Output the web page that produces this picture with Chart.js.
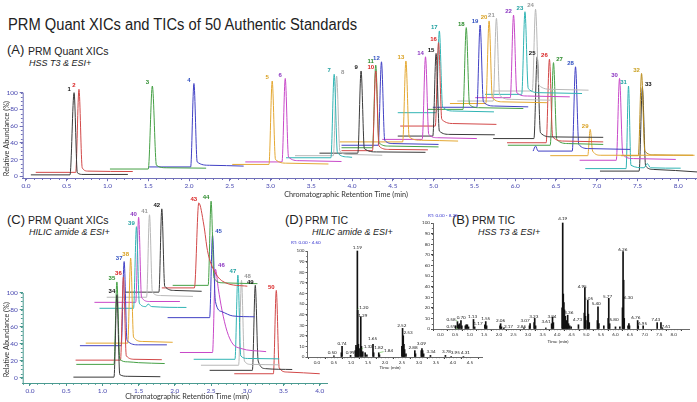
<!DOCTYPE html>
<html><head><meta charset="utf-8">
<script src="https://cdn.jsdelivr.net/npm/chart.js@4.4.0/dist/chart.umd.min.js"></script>
<style>
html,body{margin:0;padding:0;background:#fff;}
#wrap{position:relative;width:697px;height:402px;overflow:hidden;background:#fff;}
canvas{position:absolute;left:0;top:0;}
.t{position:absolute;white-space:nowrap;font-family:"Liberation Sans",Arial,sans-serif;color:#222;line-height:1;}
.i{font-style:italic;}
</style></head><body><div id="wrap">
<div class="t" style="left:8px;top:17px;font-size:16px;transform:scaleX(.92);transform-origin:0 0">PRM Quant XICs and TICs of 50 Authentic Standards</div>
<div class="t" style="left:7px;top:43px;font-size:13px">(A)</div>
<div class="t" style="left:28px;top:45.5px;font-size:10.5px">PRM Quant XICs</div>
<div class="t i" style="left:29px;top:59px;font-size:9px">HSS T3 &amp; ESI+</div>
<div class="t" style="left:7px;top:213px;font-size:13px">(C)</div>
<div class="t" style="left:28px;top:215px;font-size:10.5px">PRM Quant XICs</div>
<div class="t i" style="left:29px;top:228px;font-size:9px">HILIC amide &amp; ESI+</div>
<div class="t" style="left:285px;top:213px;font-size:13px">(D)</div>
<div class="t" style="left:305px;top:215px;font-size:10.5px">PRM TIC</div>
<div class="t i" style="left:312px;top:228px;font-size:9px">HILIC amide &amp; ESI+</div>
<div class="t" style="left:452px;top:213px;font-size:13px">(B)</div>
<div class="t" style="left:472px;top:215px;font-size:10.5px">PRM TIC</div>
<div class="t i" style="left:478px;top:228px;font-size:9px">HSS T3 &amp; ESI+</div>
<canvas id="cA" width="697" height="402"></canvas>
<canvas id="cC" width="697" height="402"></canvas>
<canvas id="cD" width="697" height="402"></canvas>
<canvas id="cB" width="697" height="402"></canvas>
</div>
<script>
// ===== Panel A: PRM quant XICs, HSS T3 & ESI+  ([retention time min, relative abundance %]) =====
const xic01 = [[0.06,1.5],[0.54,1.5],[0.59,100],[0.63,4],[0.70,2],[1.25,2]];
const xic02 = [[0.12,4.5],[0.61,4.5],[0.65,104],[0.69,10],[0.76,6],[1.31,5.5]];
const xic03 = [[1.03,8.5],[1.50,8.5],[1.55,108],[1.60,13],[1.72,10],[2.21,9.5]];
const xic04 = [[1.51,11],[2.02,11],[2.06,111],[2.10,17],[2.25,13],[2.67,12]];
const xic05 = [[2.53,14],[2.98,14],[3.02,114],[3.06,20],[3.20,15.5],[3.71,14.5]];
const xic06 = [[2.69,17],[3.14,17],[3.18,117],[3.22,23],[3.35,18.5],[3.87,17.5]];
const xic07 = [[3.19,22],[3.74,22],[3.78,122],[3.82,28],[3.95,23],[4.00,22.5]];
const xic08 = [[3.30,24.5],[3.77,24.5],[3.81,120],[3.85,30],[3.95,26],[4.37,25]];
const xic09 = [[3.60,27.5],[4.07,27.5],[4.11,126],[4.15,33],[4.30,29],[4.90,28.5]];
const xic10 = [[3.87,30.5],[4.25,30.5],[4.29,126],[4.33,36],[4.45,32],[4.93,31.5]];
const xic11 = [[3.87,34],[4.25,34],[4.29,133],[4.33,40],[4.45,36],[5.06,35]];
const xic12 = [[3.87,37],[4.32,37],[4.36,137],[4.40,43],[4.50,39],[5.06,38]];
const xic13 = [[3.85,41],[4.62,41],[4.66,138],[4.70,47],[4.85,43],[5.30,42]];
const xic14 = [[4.37,44],[4.86,44],[4.90,143],[4.94,50],[5.05,46],[5.53,45]];
const xic15 = [[4.56,48],[4.99,48],[5.03,147],[5.07,54],[5.20,50],[5.75,49.5]];
const xic16 = [[4.59,60],[5.02,60],[5.06,160],[5.10,68],[5.25,63],[5.77,62]];
const xic17 = [[4.56,76],[5.03,76],[5.07,174],[5.11,83],[5.25,78],[5.74,77]];
const xic18 = [[4.92,80],[5.36,80],[5.40,178],[5.44,86],[5.55,82],[6.10,81]];
const xic19 = [[4.99,82.5],[5.53,82.5],[5.57,181],[5.61,89],[5.75,84],[6.16,83]];
const xic20 = [[5.20,87],[5.64,87],[5.68,186],[5.72,94],[5.85,89],[6.39,88]];
const xic21 = [[5.29,90],[5.73,90],[5.77,189],[5.81,97],[5.95,92],[6.43,91]];
const xic22 = [[5.51,94],[5.94,94],[5.98,193],[6.02,100],[6.15,96],[6.67,95]];
const xic23 = [[5.63,98],[6.08,98],[6.12,197],[6.16,105],[6.30,100],[6.82,99]];
const xic24 = [[5.73,102],[6.21,102],[6.25,200],[6.29,109],[6.45,104],[6.90,103]];
const xic25 = [[5.73,45],[6.23,45],[6.27,143],[6.31,52],[6.45,47],[7.08,46.5]];
const xic26 = [[5.90,40],[6.38,40],[6.42,140],[6.46,47],[6.60,42],[7.08,41]];
const xic27 = [[5.91,37],[6.43,37],[6.47,136],[6.51,44],[6.65,39],[7.08,38]];
const xic28 = [[6.22,30],[6.25,36],[6.28,30],[6.70,30],[6.74,131],[6.78,38],[6.90,33],[7.41,32]];
const xic29 = [[6.43,24.5],[6.89,24.5],[6.92,56],[6.95,30],[7.05,25],[8.20,25]];
const xic30 = [[6.79,19],[7.24,19],[7.28,117],[7.32,26],[7.45,21],[7.97,20]];
const xic31 = [[6.86,9],[7.36,9],[7.39,108],[7.42,13],[7.58,10],[7.62,15],[7.66,10],[8.03,9.5]];
const xic32 = [[7.30,24.5],[7.51,24.5],[7.55,123],[7.59,30],[7.70,25.5],[8.18,25]];
const xic33 = [[7.04,6],[7.52,6],[7.56,106],[7.60,12],[7.70,8],[8.23,5]];
const idsA = ['1','2','3','4','5','6','7','8','9','10','11','12','13','14','15','16','17','18','19','20','21','22','23','24','25','26','27','28','29','30','31','32','33'];

// ===== Panel C: PRM quant XICs, HILIC amide & ESI+ =====
const xic34 = [[0.60,1],[1.16,1],[1.20,98],[1.24,4],[1.35,2],[1.80,1.5]];
const xic35 = [[0.64,16],[1.16,16],[1.20,113],[1.24,22],[1.35,19],[1.50,18],[1.86,17]];
const xic36 = [[0.63,21],[1.25,21],[1.29,119],[1.33,26],[1.45,22],[1.82,21.5]];
const xic37 = [[0.69,38],[1.26,38],[1.30,137],[1.34,44],[1.50,39],[1.89,39]];
const xic38 = [[0.77,41],[1.35,41],[1.39,141],[1.43,48],[1.55,43],[1.97,42]];
const xic39 = [[0.96,82],[1.43,82],[1.47,178],[1.51,88],[1.60,84],[1.63,87],[1.68,84],[2.16,83]];
const xic40 = [[0.89,89],[1.46,89],[1.50,189],[1.54,95],[1.65,90],[2.07,90]];
const xic41 = [[1.06,95],[1.61,95],[1.65,192],[1.69,101],[1.80,97],[2.25,96]];
const xic42 = [[1.31,101],[1.78,101],[1.82,199],[1.86,108],[2.00,103],[2.37,102]];
const xic43 = [[1.82,106],[2.27,106],[2.33,206],[2.40,180],[2.45,150],[2.55,125],[2.70,112],[3.00,108]];
const xic44 = [[1.97,109],[2.46,109],[2.50,208],[2.54,118],[2.65,112],[3.14,111]];
const xic45 = [[1.90,71],[2.48,71],[2.52,168],[2.56,90],[2.65,78],[2.80,73],[3.10,72]];
const xic46 = [[2.07,30],[2.52,30],[2.56,128],[2.60,105],[2.65,80],[2.72,55],[2.80,40],[2.90,35],[3.26,31]];
const xic47 = [[2.26,22],[2.83,22],[2.87,121],[2.91,26],[3.00,23],[3.44,22.5]];
const xic48 = [[2.36,15],[2.88,15],[2.92,115],[2.96,20],[3.05,16],[3.44,15.5]];
const xic49 = [[2.48,9],[3.07,9],[3.11,109],[3.15,20],[3.25,11],[3.62,10]];
const xic50 = [[2.82,5],[3.36,5],[3.40,103],[3.44,12],[3.55,7],[4.00,5]];
const idsC = ['34','35','36','37','38','39','40','41','42','43','44','45','46','47','48','49','50'];

// ===== Panel D: PRM TIC, HILIC amide & ESI+ ([time min, relative abundance %]) =====
const ticD = [[0.50,1],[0.72,4],[0.74,10],[0.99,1.5],[1.13,6],[1.15,11],[1.17,9],[1.19,100],[1.20,44],[1.22,12],[1.24,8],
  [1.29,38],[1.31,10],[1.35,5],[1.42,4],[1.47,2],[1.65,12],[1.67,4],[1.82,4],[1.84,2],
  [2.50,10],[2.52,27],[2.54,20],[2.56,12],[2.58,7],[2.62,3],[2.88,6],[2.90,3],
  [3.07,6],[3.09,8],[3.11,6],[3.14,3],[3.34,1.5],[3.78,1.5],[3.95,0.5],[4.31,0.5]];
const notesD = [['0.50',0.45,4],['0.74',0.74,13],['0.99',0.98,4],['1.19',1.19,103],['1.20',1.38,47],['1.29',1.35,39],
  ['1.32',1.51,9.5],['1.65',1.64,17],['1.82',1.82,8.5],['1.84',2.11,6],['2.52',2.50,30],['2.53',2.68,23],
  ['2.88',2.83,8.5],['3.09',3.07,13],['3.34',3.36,5],['3.78',3.81,5],['3.95',4.07,4],['4.31',4.37,4]];

// ===== Panel B: PRM TIC, HSS T3 & ESI+ =====
const ticB = [[0.52,3],[0.58,7],[0.61,4],[0.65,5],[0.70,8],[0.73,3],[0.85,3],[0.88,4],[0.92,4],[0.96,2],[1.13,9],[1.17,2],
  [1.52,4],[1.55,7],[1.58,3],[2.04,3],[2.06,5],[2.09,2],[2.17,1],[2.86,1],[3.05,3],[3.07,5],[3.21,6],[3.23,10],[3.26,3],
  [3.61,1],[3.81,5],[3.84,11],[3.87,6],[4.17,20],[4.19,100],[4.21,33],[4.23,25],[4.25,18],[4.28,12],[4.31,8],[4.34,6],
  [4.36,13],[4.39,5],[4.43,3],[4.48,2],[4.73,4],[4.93,15],[4.95,39],[4.97,12],[5.03,8],[5.05,27],[5.07,14],[5.10,6],
  [5.38,8],[5.40,21],[5.43,5],[5.60,3],[5.75,10],[5.77,29],[5.80,5],[6.00,2],[6.15,2],[6.24,20],[6.26,73],[6.28,46],
  [6.30,10],[6.43,3],[6.46,5],[6.48,3],[6.76,8],[6.78,3],[6.95,3],[7.43,6],[7.56,6],[7.61,1]];
const notesB = [['0.58',0.36,9.4],['0.59',0.36,2],['0.70',0.71,11],['1.13',1.10,12],['1.17',1.29,5],['1.55',1.55,10],
  ['2.06',2.06,8],['2.17',2.33,2],['2.86',2.78,2],['3.07',2.90,8],['3.23',3.20,12],['3.61',3.62,7],['3.84',3.82,12],
  ['4.19',4.19,104],['4.36',4.40,16],['4.73',4.70,8.5],['4.95',4.86,40],['5.05',5.08,29],['5.40',5.34,24],['5.77',5.73,31],
  ['5.80',5.95,8.5],['6.26',6.25,75],['6.30',6.44,30],['6.76',6.70,11],['6.95',6.93,5.5],['7.43',7.38,8.5],['7.61',7.73,2]];

// ===== styles =====
const LINE = {K:'#3a3a3a',R:'#d24848',G:'#45a045',B:'#4040c4',Y:'#e4a832',M:'#c848c8',T:'#30b4b4',L:'#b8b8b8',O:'#b88a1a'};
const LAB  = {K:'#111',R:'#d81e1e',G:'#2a8a2a',B:'#3050c0',Y:'#d9a020',M:'#8a34c0',T:'#1fa0a0',L:'#999',O:'#c9a020'};
const colA = ['K','R','G','B','Y','M','T','L','K','R','G','B','Y','M','K','R','T','G','B','Y','L','M','T','L','K','R','G','B','Y','M','T','O','K'];
const colC = ['K','G','R','B','Y','T','M','L','K','R','G','B','M','T','L','K','R'];
const rightA = ['8','27','33'];
const rightC = ['45','46','48'];
const FH = '"Liberation Sans", Arial, sans-serif';
const FA = 'Lato, "Liberation Sans", sans-serif';

const peakLabels = {
  id:'peakLabels',
  afterDatasetsDraw(chart, args, o){
    const ctx = chart.ctx; ctx.save();
    ctx.font = 'bold 6px ' + FH; ctx.textAlign='center'; ctx.textBaseline='bottom';
    chart.data.datasets.forEach((ds,i)=>{
      const meta = chart.getDatasetMeta(i);
      let b = 0; ds.data.forEach((p,j)=>{ if(p.y>ds.data[b].y) b=j; });
      const el = meta.data[b];
      const r = o.right.includes(ds.label);
      ctx.fillStyle = ds.labelColor;
      ctx.fillText(ds.label, el.x + (r?6:-5), el.y - 0.5);
    });
    ctx.restore();
  }
};
const axesDeco = {
  id:'axesDeco',
  afterDraw(chart, args, o){
    const {ctx, chartArea:a} = chart; const x = chart.scales.x, y = chart.scales.y;
    ctx.save(); ctx.strokeStyle = o.color; ctx.lineWidth = 1;
    ctx.beginPath();
    if (o.yLine){ ctx.moveTo(a.left+0.5, y.getPixelForValue(o.yTop)); ctx.lineTo(a.left+0.5, a.bottom); }
    for (let k = Math.ceil(x.min/o.xMinor); k*o.xMinor <= x.max; k++){
      const px = Math.round(x.getPixelForValue(k*o.xMinor))+0.5; ctx.moveTo(px,a.bottom); ctx.lineTo(px,a.bottom+o.len);
    }
    for (let k = 0; k*o.yMinor <= o.yTop; k++){
      const py = Math.round(y.getPixelForValue(k*o.yMinor))+0.5; ctx.moveTo(a.left,py); ctx.lineTo(a.left-o.len,py);
    }
    ctx.stroke();
    ctx.fillStyle = o.titleColor; ctx.textAlign='center'; ctx.textBaseline='middle';
    ctx.font = o.titleFont;
    if (o.xTitle) ctx.fillText(o.xTitle.text, o.xTitle.x, o.xTitle.y);
    if (o.yTitle){ ctx.translate(o.yTitle.x, y.getPixelForValue(o.yTitle.v)); ctx.rotate(-Math.PI/2); ctx.fillText(o.yTitle.text,0,0); }
    ctx.restore();
  }
};
const ticNotes = {
  id:'ticNotes',
  afterDatasetsDraw(chart, args, o){
    const ctx = chart.ctx; const x = chart.scales.x, y = chart.scales.y; ctx.save();
    ctx.font = '4.6px ' + FA; ctx.textAlign='center'; ctx.textBaseline='middle';
    o.notes.forEach(n=>{
      const lx = x.getPixelForValue(n[1]), ly = y.getPixelForValue(n[2]);
      const px = x.getPixelForValue(parseFloat(n[0]));
      const w = ctx.measureText(n[0]).width;
      if (Math.abs(px - lx) > w/2 + 1){
        ctx.strokeStyle = '#7ccf6a'; ctx.lineWidth = 0.8; ctx.beginPath();
        const ex = px < lx ? lx - w/2 - 0.5 : lx + w/2 + 0.5;
        ctx.moveTo(px, ly + 2); ctx.lineTo(ex, ly + 1); ctx.stroke();
      }
      ctx.fillStyle='#222'; ctx.fillText(n[0], lx, ly);
    });
    ctx.fillStyle = '#3a3ad0'; ctx.textAlign='left';
    ctx.fillText(o.rt.text, o.rt.x, o.rt.y);
    ctx.fillStyle = '#222'; ctx.textAlign='center';
    ctx.fillText('Time (min)', o.tt.x, o.tt.y);
    ctx.restore();
  }
};

function base(area, yW, xH){
  return {responsive:false, animation:false, devicePixelRatio:1, events:[],
    layout:{padding:{left:area.l-yW, top:area.t, right:697-area.r, bottom:402-area.b-xH}}};
}
function xicChart(id, traces, ids, cols, area, xr, yr, axisCol, right, deco){
  const ds = traces.map((pts,i)=>({label:ids[i], data:pts.map(p=>({x:p[0],y:p[1]})), borderColor:LINE[cols[i]],
    labelColor:LAB[cols[i]], borderWidth:1, pointRadius:0, fill:false, cubicInterpolationMode:'monotone'}));
  const o = base(area, area.l, 14);
  o.scales = {
    x:{type:'linear', min:xr[0], max:xr[1], afterFit:s=>{s.height=14;},
      ticks:{stepSize:0.5, includeBounds:false, autoSkip:false, maxRotation:0, padding:1, color:'#4848b0',
        font:{size:6.5, family:FA}, callback:v=>v.toFixed(1)},
      grid:{drawOnChartArea:false, tickLength:3, color:axisCol}, border:{color:axisCol, width:1}},
    y:{type:'linear', min:yr[0], max:yr[1], afterFit:s=>{s.width=area.l;},
      afterBuildTicks:s=>{ s.ticks=[0,20,40,60,80,100].map(v=>({value:v})); },
      ticks:{padding:2, color:'#4848b0', font:{size:6.5, family:FA}},
      grid:{drawOnChartArea:false, tickLength:3, color:axisCol}, border:{display:false}}
  };
  o.plugins = {legend:{display:false}, tooltip:{enabled:false}, peakLabels:{right}, axesDeco:deco};
  return new Chart(document.getElementById(id), {type:'line', data:{datasets:ds}, options:o, plugins:[peakLabels, axesDeco]});
}
function ticChart(id, data, notes, area, xr, xStep, rt, tt){
  const o = base(area, 14, 10);
  o.scales = {
    x:{type:'linear', min:xr[0], max:xr[1], afterFit:s=>{s.height=10;},
      ticks:{stepSize:xStep, includeBounds:false, autoSkip:false, maxRotation:0, padding:1, color:'#333',
        font:{size:4.6, family:FA}, callback:v=>v.toFixed(1)},
      grid:{drawOnChartArea:false, tickLength:2, color:'#444'}, border:{color:'#444', width:0.8}},
    y:{type:'linear', min:0, max:100, afterFit:s=>{s.width=14;},
      ticks:{stepSize:10, padding:1, color:'#333', font:{size:4.6, family:FA}},
      grid:{drawOnChartArea:false, tickLength:2, color:'#444'}, border:{color:'#444', width:0.8}}
  };
  o.plugins = {legend:{display:false}, tooltip:{enabled:false}, ticNotes:{notes, rt, tt},
    axesDeco:{color:'#666', yLine:false, yTop:100, xMinor:0.1, yMinor:5, len:1.2, titleColor:'#222', titleFont:'5px '+FA}};
  return new Chart(document.getElementById(id), {type:'bar',
    data:{datasets:[{data:data.map(p=>({x:p[0],y:p[1]})), backgroundColor:'#111', barThickness:1, grouped:false, clip:false}]},
    options:o, plugins:[ticNotes, axesDeco]});
}

xicChart('cA', [xic01,xic02,xic03,xic04,xic05,xic06,xic07,xic08,xic09,xic10,xic11,xic12,xic13,xic14,xic15,xic16,xic17,
  xic18,xic19,xic20,xic21,xic22,xic23,xic24,xic25,xic26,xic27,xic28,xic29,xic30,xic31,xic32,xic33], idsA, colA,
  {l:22.7, t:0.6, r:697, b:178.2}, [-0.04, 8.23], [-2.5, 204], '#7070b8', rightA,
  {color:'#7070b8', yLine:true, yTop:100, xMinor:0.1, yMinor:5, len:1.8, titleColor:'#333', titleFont:'7.3px '+FA,
   xTitle:{text:'Chromatographic Retention Time (min)', x:346, y:195}, yTitle:{text:'Relative Abundance (%)', x:7, v:45}});

xicChart('cC', [xic34,xic35,xic36,xic37,xic38,xic39,xic40,xic41,xic42,xic43,xic44,xic45,xic46,xic47,xic48,xic49,xic50],
  idsC, colC, {l:22.7, t:195, r:327, b:383}, [-0.1, 4.1], [-5.9, 215.3], '#4a9a90', rightC,
  {color:'#4a9a90', yLine:true, yTop:100, xMinor:0.1, yMinor:5, len:1.8, titleColor:'#333', titleFont:'7.3px '+FA,
   xTitle:{text:'Chromatographic Retention Time (min)', x:187, y:397}, yTitle:{text:'Relative Abundance (%)', x:7, v:45}});

ticChart('cD', ticD, notesD, {l:307.5, t:251, r:482, b:357}, [-0.02, 4.6], 0.5,
  {text:'RT: 0.00 - 4.60', x:291, y:243}, {x:390, y:368});
ticChart('cB', ticB, notesB, {l:433, t:223, r:689.5, b:329}, [0, 8.28], 0.5,
  {text:'RT: 0.00 - 8.28', x:428, y:216}, {x:558, y:342});
</script></body></html>
